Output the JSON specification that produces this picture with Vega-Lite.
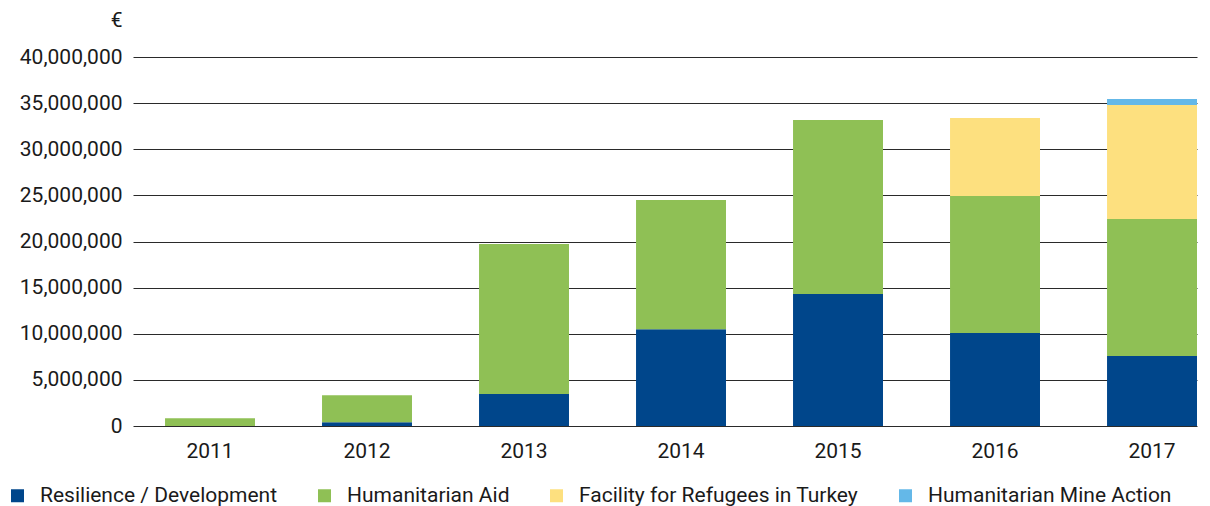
{
  "$schema": "https://vega.github.io/schema/vega-lite/v6.json",
  "width": 1064,
  "height": 369,
  "autosize": {"type": "none"},
  "padding": {"left": 133, "top": 57, "right": 13, "bottom": 80},
  "background": "white",
  "config": {
    "view": {"stroke": null},
    "font": "Roboto",
    "axis": {"labelFont": "Roboto", "labelFontSize": 21, "labelColor": "#1a1a1a", "titleFont": "Roboto"},
    "legend": {"labelFont": "Roboto", "labelFontSize": 21, "labelColor": "#1a1a1a"}
  },
  "data": {
    "values": [
      {"year": "2011", "type": "Resilience / Development", "rank": 1, "value": 0},
      {"year": "2011", "type": "Humanitarian Aid", "rank": 2, "value": 830000},
      {"year": "2012", "type": "Resilience / Development", "rank": 1, "value": 400000},
      {"year": "2012", "type": "Humanitarian Aid", "rank": 2, "value": 2930000},
      {"year": "2013", "type": "Resilience / Development", "rank": 1, "value": 3470000},
      {"year": "2013", "type": "Humanitarian Aid", "rank": 2, "value": 16260000},
      {"year": "2014", "type": "Resilience / Development", "rank": 1, "value": 10500000},
      {"year": "2014", "type": "Humanitarian Aid", "rank": 2, "value": 14000000},
      {"year": "2015", "type": "Resilience / Development", "rank": 1, "value": 14300000},
      {"year": "2015", "type": "Humanitarian Aid", "rank": 2, "value": 18870000},
      {"year": "2016", "type": "Resilience / Development", "rank": 1, "value": 10080000},
      {"year": "2016", "type": "Humanitarian Aid", "rank": 2, "value": 14850000},
      {"year": "2016", "type": "Facility for Refugees in Turkey", "rank": 3, "value": 8460000},
      {"year": "2017", "type": "Resilience / Development", "rank": 1, "value": 7590000},
      {"year": "2017", "type": "Humanitarian Aid", "rank": 2, "value": 14850000},
      {"year": "2017", "type": "Facility for Refugees in Turkey", "rank": 3, "value": 12360000},
      {"year": "2017", "type": "Humanitarian Mine Action", "rank": 4, "value": 650000}
    ]
  },
  "mark": {"type": "bar"},
  "encoding": {
    "x": {
      "field": "year",
      "type": "ordinal",
      "scale": {"paddingInner": 0.427, "paddingOuter": 0.102, "align": 1},
      "axis": {"title": null, "labelAngle": 0, "ticks": false, "domain": false, "labelPadding": 14, "grid": false}
    },
    "y": {
      "field": "value",
      "type": "quantitative",
      "stack": "zero",
      "scale": {"domain": [0, 40000000], "nice": false},
      "axis": {
        "title": "€",
        "titleAngle": 0,
        "titleAlign": "right",
        "titleBaseline": "middle",
        "titleX": -11,
        "titleY": -37,
        "titleFontSize": 21,
        "titleFontWeight": "normal",
        "titleColor": "#1a1a1a",
        "values": [0, 5000000, 10000000, 15000000, 20000000, 25000000, 30000000, 35000000, 40000000],
        "format": ",d",
        "ticks": false,
        "domain": false,
        "labelPadding": 11,
        "grid": true,
        "gridColor": "#2a2a2a",
        "gridWidth": 1
      }
    },
    "order": {"field": "rank", "type": "quantitative", "sort": "ascending"},
    "color": {
      "field": "type",
      "type": "nominal",
      "scale": {
        "domain": ["Resilience / Development", "Humanitarian Aid", "Facility for Refugees in Turkey", "Humanitarian Mine Action"],
        "range": ["#00468b", "#8fc055", "#fde07f", "#64b8e8"]
      },
      "legend": {
        "title": null,
        "orient": "none",
        "direction": "horizontal",
        "legendX": -126,
        "legendY": 428,
        "padding": 0,
        "symbolType": "square",
        "symbolSize": 169,
        "symbolStrokeWidth": 0,
        "labelOffset": 12,
        "labelLimit": 0,
        "columnPadding": 36
      }
    }
  }
}
